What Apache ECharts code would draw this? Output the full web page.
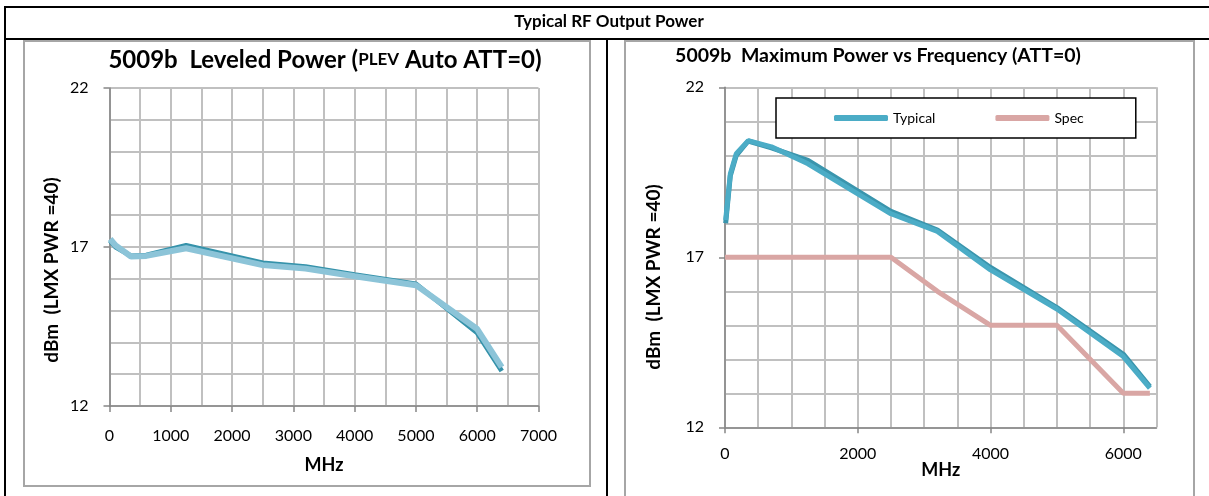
<!DOCTYPE html>
<html><head><meta charset="utf-8">
<script src="https://cdn.jsdelivr.net/npm/echarts@6/dist/echarts.min.js"></script>
<style>html,body{margin:0;padding:0;background:#fff}#c{width:1209px;height:496px}</style>
</head><body><div id="c"></div>
<script>
// ---- Data ----
const leveledFreq  = [10, 100, 350, 600, 1250, 2500, 3200, 4000, 5000, 6000, 6400];
const leveledUnitA = [17.2, 17.0, 16.72, 16.74, 17.05, 16.5, 16.38, 16.13, 15.84, 14.3, 13.1];
const leveledUnitB = [17.25, 17.05, 16.7, 16.72, 16.96, 16.43, 16.32, 16.08, 15.8, 14.42, 13.22];

const maxFreq   = [10, 80, 170, 350, 700, 1250, 2500, 3200, 4000, 5000, 6000, 6400];
const typicalA  = [18.0, 19.4, 20.0, 20.42, 20.22, 19.85, 18.35, 17.8, 16.7, 15.52, 14.15, 13.2];
const typicalB  = [18.1, 19.45, 20.05, 20.43, 20.25, 19.75, 18.28, 17.76, 16.63, 15.48, 14.08, 13.15];

const specFreq  = [0, 2500, 3200, 4000, 5000, 6000, 6400];
const specPower = [17, 17, 16, 15, 15, 13, 13];

const leftXTicks  = [0, 1000, 2000, 3000, 4000, 5000, 6000, 7000];
const rightXTicks = [0, 2000, 4000, 6000];
const yTicks      = [12, 17, 22];

const pairs = (xs, ys) => xs.map((x, i) => [x, ys[i]]);

// ---- Styles ----
const FONT = 'Lato, "Liberation Sans", sans-serif';
const gridLine = { show: true, lineStyle: { color: '#c0c0c0', width: 2 } };
const axisLineStyle = { color: '#868686', width: 1.5 };
const lbl = { color: '#000', fontFamily: FONT, fontSize: 16, formatter: v => String(v) };
const nameStyle = { fontFamily: FONT, fontWeight: 'bold', fontSize: 18, color: '#000' };

// axis drawing only the grid (every 500 MHz / 1 dB)
function gridAxis(gi, min, max, interval) {
  return { gridIndex: gi, type: 'value', min, max, interval,
    axisLine: { show: false }, axisTick: { show: false }, axisLabel: { show: false },
    splitLine: gridLine };
}
// axis drawing the line, ticks and labels
function labelAxis(gi, pos, min, max, ticks, margin, extra) {
  return Object.assign({ gridIndex: gi, type: 'value', position: pos, offset: 0, min, max,
    axisLine: { show: true, onZero: false, lineStyle: axisLineStyle },
    splitLine: { show: false },
    axisTick: { show: true, length: 6, customValues: ticks, lineStyle: axisLineStyle },
    axisLabel: Object.assign({}, lbl, { margin, customValues: ticks }) }, extra || {});
}

const chart = echarts.init(document.getElementById('c'), null, { renderer: 'canvas' });
chart.setOption({
  animation: false,
  backgroundColor: '#fff',
  title: [
    { text: 'Typical RF Output Power', left: 609, top: 13, textAlign: 'center', padding: 0,
      textStyle: { fontFamily: FONT, fontWeight: 'bold', fontSize: 17, color: '#000' } },
    { text: '5009b  Leveled Power ({s|PLEV} Auto ATT=0)', left: 325, top: 48, textAlign: 'center', padding: 0,
      textStyle: { fontFamily: FONT, fontWeight: 'bold', fontSize: 24, color: '#000',
        rich: { s: { fontFamily: FONT, fontWeight: 'bold', fontSize: 17, color: '#000' } } } },
    { text: '5009b  Maximum Power vs Frequency (ATT=0)', left: 878, top: 46, textAlign: 'center', padding: 0,
      textStyle: { fontFamily: FONT, fontWeight: 'bold', fontSize: 19.5, color: '#000' } }
  ],
  legend: {
    data: ['Typical', 'Spec'], left: 776, top: 98, padding: [13, 52, 13, 58],
    itemGap: 60, itemWidth: 54, itemHeight: 6, icon: 'roundRect',
    borderColor: '#000', borderWidth: 1.5, backgroundColor: '#fff',
    textStyle: { fontFamily: FONT, fontSize: 14, color: '#000' }
  },
  grid: [
    { left: 109.5, top: 88, width: 429, height: 318 },
    { left: 725, top: 87.3, width: 431.5, height: 340 }
  ],
  xAxis: [
    gridAxis(0, 0, 7000, 500),
    labelAxis(0, 'bottom', 0, 7000, leftXTicks, 22,
      { name: 'MHz', nameLocation: 'middle', nameGap: 50, nameMoveOverlap: false, nameTextStyle: nameStyle }),
    gridAxis(1, 0, 6500, 500),
    labelAxis(1, 'bottom', 0, 6500, rightXTicks, 19,
      { name: 'MHz', nameLocation: 'middle', nameGap: 34, nameMoveOverlap: false, nameTextStyle: nameStyle })
  ],
  yAxis: [
    gridAxis(0, 12, 22, 1),
    labelAxis(0, 'left', 12, 22, yTicks, 21),
    gridAxis(1, 12, 22, 1),
    labelAxis(1, 'left', 12, 22, yTicks, 21)
  ],
  series: [
    { name: 'Leveled A', type: 'line', xAxisIndex: 0, yAxisIndex: 0, showSymbol: false, z: 3,
      data: pairs(leveledFreq, leveledUnitA),
      lineStyle: { color: '#3592aa', width: 5 }, itemStyle: { color: '#3592aa' } },
    { name: 'Leveled B', type: 'line', xAxisIndex: 0, yAxisIndex: 0, showSymbol: false, z: 4,
      data: pairs(leveledFreq, leveledUnitB),
      lineStyle: { color: '#8cc4d8', width: 6 }, itemStyle: { color: '#8cc4d8' } },
    { name: 'Typical unit 2', type: 'line', xAxisIndex: 2, yAxisIndex: 2, showSymbol: false, z: 3,
      data: pairs(maxFreq, typicalA),
      lineStyle: { color: '#3a95ad', width: 5 }, itemStyle: { color: '#3a95ad' } },
    { name: 'Spec', type: 'line', xAxisIndex: 2, yAxisIndex: 2, showSymbol: false, z: 3,
      data: pairs(specFreq, specPower),
      lineStyle: { color: '#d9a6a4', width: 5 }, itemStyle: { color: '#d9a6a4' } },
    { name: 'Typical', type: 'line', xAxisIndex: 2, yAxisIndex: 2, showSymbol: false, z: 4,
      data: pairs(maxFreq, typicalB),
      lineStyle: { color: '#4bacc6', width: 5 }, itemStyle: { color: '#4bacc6' } }
  ],
  graphic: [
    // table frame
    { type: 'line', shape: { x1: 4, y1: 7, x2: 1209, y2: 7 }, style: { stroke: '#000', lineWidth: 2 }, z: 10 },
    { type: 'line', shape: { x1: 5, y1: 7, x2: 5, y2: 496 }, style: { stroke: '#000', lineWidth: 2 }, z: 10 },
    { type: 'line', shape: { x1: 4, y1: 39, x2: 1209, y2: 39 }, style: { stroke: '#000', lineWidth: 2 }, z: 10 },
    { type: 'line', shape: { x1: 607, y1: 39, x2: 607, y2: 496 }, style: { stroke: '#000', lineWidth: 2 }, z: 10 },
    // chart boxes
    { type: 'rect', shape: { x: 24, y: 41, width: 566, height: 445 }, style: { fill: null, stroke: '#a6a6a6', lineWidth: 2 }, z: 10 },
    { type: 'rect', shape: { x: 625, y: 41, width: 569, height: 470 }, style: { fill: null, stroke: '#a6a6a6', lineWidth: 2 }, z: 10 },
    // y-axis names
    { type: 'text', x: 52, y: 270, rotation: Math.PI / 2, z: 10,
      style: { text: 'dBm  (LMX PWR =40)', font: 'bold 19px ' + FONT, fill: '#000', textAlign: 'center', textVerticalAlign: 'middle' } },
    { type: 'text', x: 654, y: 277, rotation: Math.PI / 2, z: 10,
      style: { text: 'dBm  (LMX PWR =40)', font: 'bold 19px ' + FONT, fill: '#000', textAlign: 'center', textVerticalAlign: 'middle' } }
  ]
});
</script></body></html>
